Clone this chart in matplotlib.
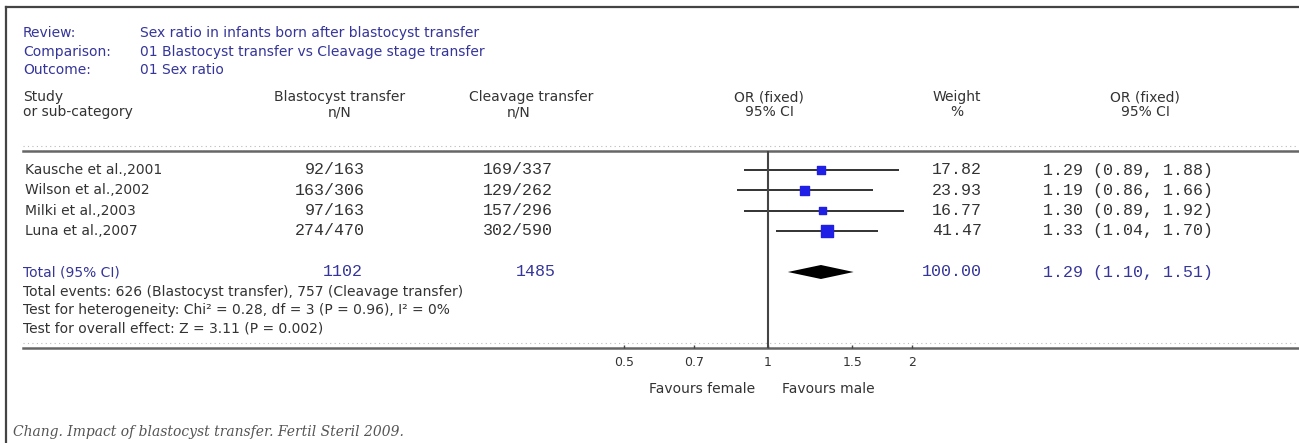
import numpy as np
import matplotlib
matplotlib.use("Agg")
import matplotlib.pyplot as plt
from matplotlib.transforms import blended_transform_factory

# data
studies = ["Kausche et al.,2001", "Wilson et al.,2002", "Milki et al.,2003", "Luna et al.,2007"]
blast_n = [92, 163, 97, 274]
blast_N = [163, 306, 163, 470]
cleav_n = [169, 129, 157, 302]
cleav_N = [337, 262, 296, 590]
odds = [1.29, 1.19, 1.30, 1.33]
ci_lo = [0.89, 0.86, 0.89, 1.04]
ci_hi = [1.88, 1.66, 1.92, 1.70]
weights = [17.82, 23.93, 16.77, 41.47]
total_or, total_lo, total_hi = 1.29, 1.10, 1.51
total_blast, total_cleav, total_weight = 1102, 1485, 100.00
ticks = [0.5, 0.7, 1, 1.5, 2]
tick_labels = ["0.5", "0.7", "1", "1.5", "2"]

W, H = 1299, 443
BLUE = "#35359a"
GREY = "#333333"
SANS = "DejaVu Sans"
MONO = "Liberation Mono"
FS = 10
MS = 12

fig = plt.figure(figsize=(W / 100, H / 100), dpi=100)
ax = fig.add_axes([0, 0, 1, 1])
ax.set_xlim(0, W)
ax.set_ylim(H, 0)
ax.axis("off")

# forest panel, log scale, shares the vertical layout with ax
fx = fig.add_axes([560 / W, 0, 416 / W, 1])
fx.set_xscale("log")
fx.set_xlim(0.3675, 2.721)
fx.set_ylim(H, 0)
fx.axis("off")
fx.patch.set_alpha(0)
bt = blended_transform_factory(fx.transData, ax.transData)


def t(x, y, s, size=FS, color=GREY, family=SANS, **kw):
    kw.setdefault("va", "center")
    ax.text(x, y, s, fontsize=size, color=color, family=family, **kw)


# frame
ax.plot([6, W], [7, 7], color="#444444", lw=1.6)
ax.plot([6, 6], [7, H], color="#444444", lw=1.6)

# header block
for y, lab, val in [(33, "Review:", "Sex ratio in infants born after blastocyst transfer"),
                    (52, "Comparison:", "01 Blastocyst transfer vs Cleavage stage transfer"),
                    (70, "Outcome:", "01 Sex ratio")]:
    t(23, y, lab, color=BLUE)
    t(140, y, val, color=BLUE)

t(23, 97, "Study")
t(23, 112, "or sub-category")
t(340, 97, "Blastocyst transfer", ha="center")
t(340, 112, "n/N", ha="center")
t(531, 97, "Cleavage transfer", ha="center")
t(519, 112, "n/N", ha="center")
t(769, 97, "OR (fixed)", ha="center")
t(769, 112, "95% CI", ha="center")
t(957, 97, "Weight", ha="center")
t(957, 112, "%", ha="center")
t(1145, 97, "OR (fixed)", ha="center")
t(1145, 112, "95% CI", ha="center")

# rules
for y in (151, 348):
    ax.plot([23, W], [y - 5, y - 5], color="#bbbbbb", lw=0.8, ls=(0, (1, 3)))
    ax.plot([23, W], [y, y], color="#666666", lw=1.8)

# study rows
row_y = 170 + 20.3 * np.arange(len(studies))
for i, y in enumerate(row_y):
    t(25, y, studies[i])
    t(365, y, f"{blast_n[i]}/{blast_N[i]}", family=MONO, size=MS, ha="right")
    t(553, y, f"{cleav_n[i]}/{cleav_N[i]}", family=MONO, size=MS, ha="right")
    t(982, y, f"{weights[i]:.2f}", family=MONO, size=MS, ha="right")
    t(1043, y, f"{odds[i]:.2f} ({ci_lo[i]:.2f}, {ci_hi[i]:.2f})", family=MONO, size=MS)

fx.hlines(row_y, ci_lo, ci_hi, color="#222222", lw=1.3)
fx.scatter(odds, row_y, marker="s", s=np.array(weights) * 1.7, color="#1f1fe6",
           edgecolor="#1f1fe6", zorder=3)

# total row
ty = 272
t(23, ty, "Total (95% CI)", color=BLUE)
t(363, ty, str(total_blast), family=MONO, size=MS, ha="right", color=BLUE)
t(556, ty, str(total_cleav), family=MONO, size=MS, ha="right", color=BLUE)
t(982, ty, f"{total_weight:.2f}", family=MONO, size=MS, ha="right", color=BLUE)
t(1043, ty, f"{total_or:.2f} ({total_lo:.2f}, {total_hi:.2f})", family=MONO, size=MS,
  color=BLUE)
fx.fill([total_lo, total_or, total_hi, total_or], [ty, ty - 7, ty, ty + 7],
        color="black", lw=0)

t(23, 292, "Total events: 626 (Blastocyst transfer), 757 (Cleavage transfer)")
t(23, 310, "Test for heterogeneity: Chi\u00b2 = 0.28, df = 3 (P = 0.96), I\u00b2 = 0%")
t(23, 328, "Test for overall effect: Z = 3.11 (P = 0.002)")

# null line and axis ticks
fx.vlines(1, 151, 348, color="#444444", lw=1.5)
fx.vlines(ticks, 345, 348, color="#444444", lw=1)
for v, lab in zip(ticks, tick_labels):
    ax.text(v, 362, lab, transform=bt, ha="center", va="center", fontsize=9,
            color=GREY, family=SANS)
ax.text(0.94, 389, "Favours female", transform=bt, ha="right", va="center",
        fontsize=FS, color=GREY, family=SANS)
ax.text(1.07, 389, "Favours male", transform=bt, ha="left", va="center",
        fontsize=FS, color=GREY, family=SANS)

t(13, 432, "Chang. Impact of blastocyst transfer. Fertil Steril 2009.",
  family="DejaVu Serif", style="italic", size=FS, color="#555555")

fig.savefig("out.png", dpi=100)
